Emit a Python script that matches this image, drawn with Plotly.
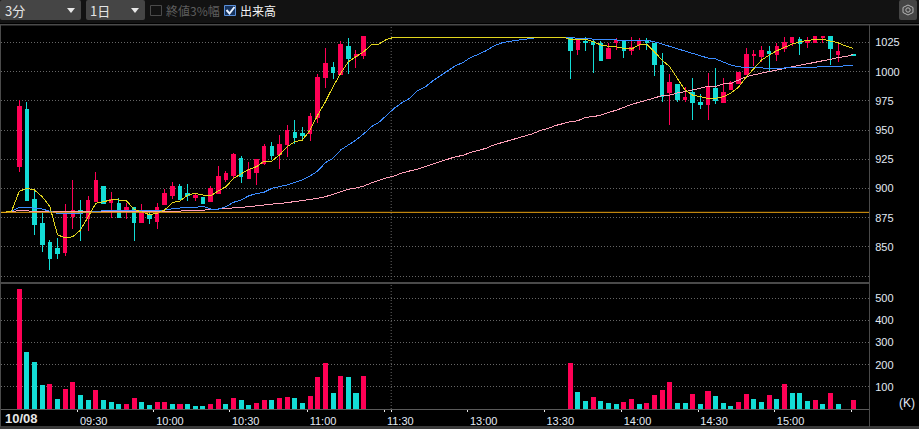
import plotly.graph_objects as go

W, H = 919, 429

# ---- data -------------------------------------------------------------
candle_index = list(range(46)) + list(range(72, 108)) + [109]
opens = [919,968,891,870,854,849,845,876,881,874,889,902,888,887,882,884,871,878,872,886,894,902,896,892,892,889,896,908,911,926,909,914,921,936,929,938,948,947,947,961,995,1004,998,1022,1013,1014,
         1029,1019,1026,1026,1024,1011,1025,1026,1018,1023,1027,1024,1005,982,989,976,982,974,972,986,974,985,990,998,1014,1013,1017,1015,1020,1025,1028,1025,1025,1029,1030,1015,1015]
highs = [976,974,899,879,856,858,887,907,890,894,914,902,897,892,888,884,887,882,888,900,906,904,904,896,893,902,919,915,930,928,923,925,938,940,946,954,959,953,965,998,1020,1008,1026,1029,1019,1030,
         1029,1029,1030,1028,1026,1025,1029,1027,1030,1029,1029,1025,1016,998,989,987,995,981,999,1003,995,992,999,1020,1019,1022,1022,1025,1030,1030,1030,1030,1030,1030,1030,1025,1015]
lows = [914,890,860,846,830,840,842,865,855,864,889,887,875,875,874,855,871,870,865,886,891,891,889,889,887,889,896,906,908,905,908,903,920,924,917,927,938,941,941,956,986,994,998,998,1003,1011,
        994,1014,1018,999,1009,1011,1019,1012,1014,1019,1019,996,974,954,974,974,959,968,959,972,974,984,990,998,1005,1008,1001,1009,1017,1022,1014,1020,1025,1025,1006,1008,1014]
closes = [970,890,869,852,840,844,878,881,879,890,907,887,891,875,884,871,880,874,884,896,902,891,894,894,887,900,910,913,929,910,916,925,936,928,938,950,944,945,962,995,1007,999,1023,1011,1015,1030,
          1018,1028,1025,1023,1010,1020,1027,1018,1021,1026,1025,1006,979,991,976,978,974,972,987,975,982,991,999,1015,1015,1018,1016,1022,1025,1029,1024,1027,1030,1030,1020,1017,1014]

volumes = [540,256,210,107,111,44,89,120,62,39,84,39,30,21,21,48,30,17,30,30,21,21,21,12,12,21,44,21,48,39,17,26,39,39,48,53,48,26,57,143,206,71,147,143,71,147,
           207,77,36,54,36,27,23,32,45,23,27,63,86,122,27,27,68,23,81,59,27,14,32,68,45,32,63,45,113,72,72,36,41,23,72,23,41]
volume_up = [1,0,0,0,1,0,1,1,0,0,1,0,0,0,1,1,0,0,1,1,0,1,0,0,0,1,1,0,1,0,0,1,1,0,1,1,0,0,1,1,1,0,1,0,0,1,
             1,0,0,1,0,0,0,1,1,0,1,1,1,1,0,0,1,0,1,0,0,0,1,1,0,0,1,0,1,0,0,0,1,0,1,0,1]

line_index = list(range(-3, 110))
ma_short = [879.6,879.6,880.7,897.6,900.2,898.7,893,884.4,860.2,857.9,858.7,864.5,875.9,887.3,888.7,890.2,890.2,889.6,882.2,879.9,877.6,878.8,881.6,887.9,889.3,894.4,895.9,894.4,893.8,897.9,901.5,908.7,912.4,916.4,918.7,923.5,923.5,928.7,935.8,940.1,941.5,950.1,962.9,974.3,987.2,998.6,1008.6,1012.9,1017.1,1022.9,1023.7,1027.8,1029.5,
            1029.7,1029.7,1029.7,1029.7,1029.7,1029.7,1029.7,1029.7,1029.7,1029.7,1029.7,1029.7,1029.7,1029.7,1029.7,1029.7,1029.7,1029.7,1029.7,1029.7,1029.7,1029.7,
            1027.8,1028,1028,1025.7,1022.9,1021.8,1021.4,1020,1019.4,1022.9,1023.7,1017.1,1010,1004.3,994.4,984.3,980,978.6,977.2,977.2,978.6,981.8,986.9,995.5,1003.2,1010,1014.3,1018,1020.9,1023.7,1025.7,1026.6,1027.8,1027.8,1026.6,1024.8,1022,1020]
ma_mid = [879.6,879.6,880.7,883.9,883.9,883.3,882.4,880.5,878.8,878.8,878.8,878.8,879.6,880.3,881,881.6,881.6,881.6,881.6,881.6,881.6,881.6,881.6,882.7,883.6,883.9,883.9,884.8,882.4,882.4,884.4,888.2,890.2,893.8,895.6,896.8,900.2,901.5,903,905.3,907.3,910.7,915,922.1,925.9,933,937.3,941.5,946.7,952.9,956.7,962.9,968.7,
          973.5,977.2,983.5,986.7,992,996.6,1000.9,1005.1,1008,1012.3,1014.9,1018,1022,1024.6,1026,1026.9,1028,1029.1,1029.5,1029.5,1029.5,1029.5,
          1029.5,1028.6,1028,1028,1027.8,1027.4,1027.2,1026.9,1026.9,1026.9,1026.9,1025.7,1023.7,1022,1019.4,1017.5,1016,1013.5,1011.7,1010.9,1008,1005.7,1004.3,1003.4,1003.4,1003.2,1002.9,1002.9,1003.2,1003.4,1003.4,1003.4,1004,1004,1004.3,1004.6,1005.1,1005.5]
ma_long = [879.6,879.6,880.3,881,881,879.9,879.9,879.9,879.9,879.9,879.9,879.9,879.9,879.9,879.9,879.9,879.9,879.9,879.9,879.9,879.9,879.9,879.9,879.9,880.7,881.3,881.3,881.3,882.2,882.4,882.7,883,883.9,884.4,885.3,885.9,886.7,887,887.9,888.4,889.3,890.2,891.6,893,895,897,899.3,900.4,902.1,904.7,907.3,909.3,910.7,
           913.3,915,916.4,918.7,920.7,922.7,925,927.2,928.4,931,932.7,934.4,937.3,939.2,940.7,943,945,946.7,949.5,951.2,953.8,955.5,
           957.2,958,961,961.5,962.9,965.2,967,969.5,972.1,973.8,975.5,977.8,979.5,980,981.8,982.9,984.3,985.8,987.5,987.5,989.5,990.1,992.9,995.7,997.4,998.6,1000.4,1001.5,1002.9,1004.3,1005.7,1007.2,1008.6,1009.4,1010.6,1012.3,1012.9,1014.9]
previous_close = 879.6
session_break = 48.6

price_ticks = [825, 850, 875, 900, 925, 950, 975, 1000, 1025]
price_labels = ["", "850", "875", "900", "925", "950", "975", "1000", "1025"]
volume_ticks = [100, 200, 300, 400, 500]
time_ticks = [7.63, 17.6, 27.5, 37.6, 47.7, 48.6, 58.6, 68.6, 78.7, 88.7, 98.7, 108.7]
time_labels = ["09:30", "10:00", "10:30", "11:00", "11:30", "", "13:00", "13:30", "14:00", "14:30", "15:00", ""]

# ---- style ------------------------------------------------------------
RED, CYAN = "#ff0055", "#13ddd6"
YELLOW, BLUE, PINK, ORANGE = "#e2d61e", "#3c8cff", "#ff9fb8", "#e8a010"
FONT = "Liberation Sans"
CJK = "Noto Sans CJK JP"
LABEL = "#e2eaf4"
GRID = "#666666"
DOT = "1px,2px"


def px(x):
    return x / W


def py(y):
    return 1 - y / H


fig = go.Figure()
fig.add_trace(go.Candlestick(
    x=candle_index, open=opens, high=highs, low=lows, close=closes,
    increasing=dict(line=dict(color=RED, width=1), fillcolor=RED),
    decreasing=dict(line=dict(color=CYAN, width=1), fillcolor=CYAN),
    whiskerwidth=0, xaxis="x", yaxis="y", hoverinfo="skip", showlegend=False))
for vals, col in ((ma_long, PINK), (ma_mid, BLUE), (ma_short, YELLOW)):
    fig.add_trace(go.Scatter(x=line_index, y=vals, mode="lines", line=dict(color=col, width=1),
                             xaxis="x", yaxis="y", hoverinfo="skip", showlegend=False))
fig.add_trace(go.Bar(x=candle_index, y=volumes, width=0.66,
                     marker=dict(color=[RED if u else CYAN for u in volume_up], line=dict(width=0)),
                     xaxis="x", yaxis="y2", hoverinfo="skip", showlegend=False))

shapes = []


def rect(x0, y0, x1, y1, fill, line=None, layer="below"):
    shapes.append(dict(type="rect", xref="paper", yref="paper", x0=px(x0), x1=px(x1), y0=py(y0), y1=py(y1),
                       fillcolor=fill, line=dict(width=1 if line else 0, color=line or fill), layer=layer))


def rounded(x0, y0, x1, y1, r, fill):
    a, b, c, d = px(x0), px(x1), py(y0), py(y1)
    rx, ry = r / W, r / H
    path = (f"M{a+rx:.5f},{c:.5f} L{b-rx:.5f},{c:.5f} Q{b:.5f},{c:.5f} {b:.5f},{c-ry:.5f} "
            f"L{b:.5f},{d+ry:.5f} Q{b:.5f},{d:.5f} {b-rx:.5f},{d:.5f} L{a+rx:.5f},{d:.5f} "
            f"Q{a:.5f},{d:.5f} {a:.5f},{d+ry:.5f} L{a:.5f},{c-ry:.5f} Q{a:.5f},{c:.5f} {a+rx:.5f},{c:.5f} Z")
    shapes.append(dict(type="path", xref="paper", yref="paper", path=path, fillcolor=fill,
                       line=dict(width=0), layer="below"))


def poly(points, fill=None, line=None, width=1):
    d = "M" + " L".join(f"{px(a):.5f},{py(b):.5f}" for a, b in points) + (" Z" if fill else "")
    shapes.append(dict(type="path", xref="paper", yref="paper", path=d, fillcolor=fill or "rgba(0,0,0,0)",
                       line=dict(width=width if line else 0, color=line or "rgba(0,0,0,0)"), layer="above"))


# toolbar and frame
rect(0, 0, W, 23, "#121212")
rect(0, 24, W, 25.5, "#4a4a4a")
rect(0, 282, 870, 284, "#4a4a4a", layer="above")
rect(0, 426, W, H, "#3a3a3a", layer="above")
rect(0, 24, 1, 427, "#4a4a4a", layer="above")
rect(869, 24, 870, 427, "#4a4a4a", layer="above")
rounded(0, 0, 81, 20, 2, "#454545")
rounded(86, 0, 145, 20, 2, "#454545")
poly([(67, 8), (75, 8), (71, 13)], fill="#e8e8e8")
poly([(131, 8), (139, 8), (135, 13)], fill="#e8e8e8")
rect(150.5, 5.5, 161.5, 15.5, "#121212", "#4a4a4a", layer="above")
rect(224.5, 5.5, 235.5, 15.5, "#17345f", "#5a8fd8", layer="above")
poly([(226.5, 10), (229.5, 13.5), (234.5, 7)], line="#e6f0ff", width=2)
rounded(899, 0, 917, 20, 2, "#454545")
poly([(908, 5), (913, 7.5), (913, 12.5), (908, 15), (903, 12.5), (903, 7.5), (908, 5)], line="#b8b8b8", width=1)
shapes.append(dict(type="circle", xref="paper", yref="paper", x0=px(905.8), x1=px(910.2), y0=py(12.2), y1=py(7.8),
                   line=dict(width=1, color="#b8b8b8"), layer="above"))
# prior-close line and session break
shapes.append(dict(type="line", xref="x", yref="y", x0=-3, x1=112, y0=previous_close, y1=previous_close,
                   line=dict(color=ORANGE, width=1), layer="above"))
shapes.append(dict(type="line", xref="x", yref="paper", x0=session_break, x1=session_break, y0=py(409), y1=py(25),
                   line=dict(color=GRID, width=1, dash=DOT), layer="below"))


def text(x, y, s, size=12, color=LABEL, family=FONT, anchor="left"):
    return dict(xref="paper", yref="paper", x=px(x), y=py(y), text=s, showarrow=False, xanchor=anchor,
                yanchor="middle", font=dict(size=size, color=color, family=family), borderpad=0, borderwidth=0)


annotations = [
    text(5, 10.5, "3分", 13, "#e4e4e4", CJK),
    text(90, 10.5, "1日", 13, "#e4e4e4", CJK),
    text(166, 10.5, "終値3%幅", 12, "#5e5e5e", CJK),
    text(240, 10.5, "出来高", 12, "#f4f4f4", CJK),
    text(21, 418.5, "<b>10/08</b>", 13, "#e6e6e6", FONT, "center"),
    text(899, 403, "(K)", 12, LABEL, FONT),
]

fig.update_layout(
    width=W, height=H, margin=dict(l=0, r=0, t=0, b=0), autosize=False,
    paper_bgcolor="#000000", plot_bgcolor="#000000",
    font=dict(family=FONT, size=11, color=LABEL),
    showlegend=False, bargap=0, boxgap=0.34, shapes=shapes, annotations=annotations,
    xaxis=dict(domain=[px(1), px(869)], range=[-2.39, 111.04], anchor="y2", showgrid=False, zeroline=False,
               rangeslider=dict(visible=False), tickmode="array", tickvals=time_ticks, ticktext=time_labels,
               ticks="outside", ticklen=2, tickwidth=1, tickcolor="#e8e8e8", ticklabelshift=16,
               tickfont=dict(size=11, color=LABEL, family=FONT), showline=True, linecolor="#5a5a5a", linewidth=1),
    yaxis=dict(domain=[py(281), py(25.5)], range=[820.8, 1039.6], side="right", anchor="x", tickmode="array",
               tickvals=price_ticks, ticktext=price_labels, ticks="outside", ticklen=3, tickcolor="rgba(0,0,0,0)",
               showgrid=True, gridcolor=GRID, griddash=DOT, gridwidth=1, zeroline=False,
               tickfont=dict(size=11, color=LABEL, family=FONT)),
    yaxis2=dict(domain=[py(409), py(284)], range=[0, 564], side="right", anchor="x", tickmode="array",
                tickvals=volume_ticks, ticks="outside", ticklen=3, tickcolor="rgba(0,0,0,0)",
                showgrid=True, gridcolor=GRID, griddash=DOT, gridwidth=1, zeroline=False,
                tickfont=dict(size=11, color=LABEL, family=FONT)),
)

crisp = ("document.body.style.margin='0';document.body.style.background='#000';"
         "document.querySelectorAll('.js-line,.boxes path').forEach(function(e){e.style.shapeRendering='crispEdges';});")
fig.write_html("out.html", config=dict(displayModeBar=False), post_script=crisp)
